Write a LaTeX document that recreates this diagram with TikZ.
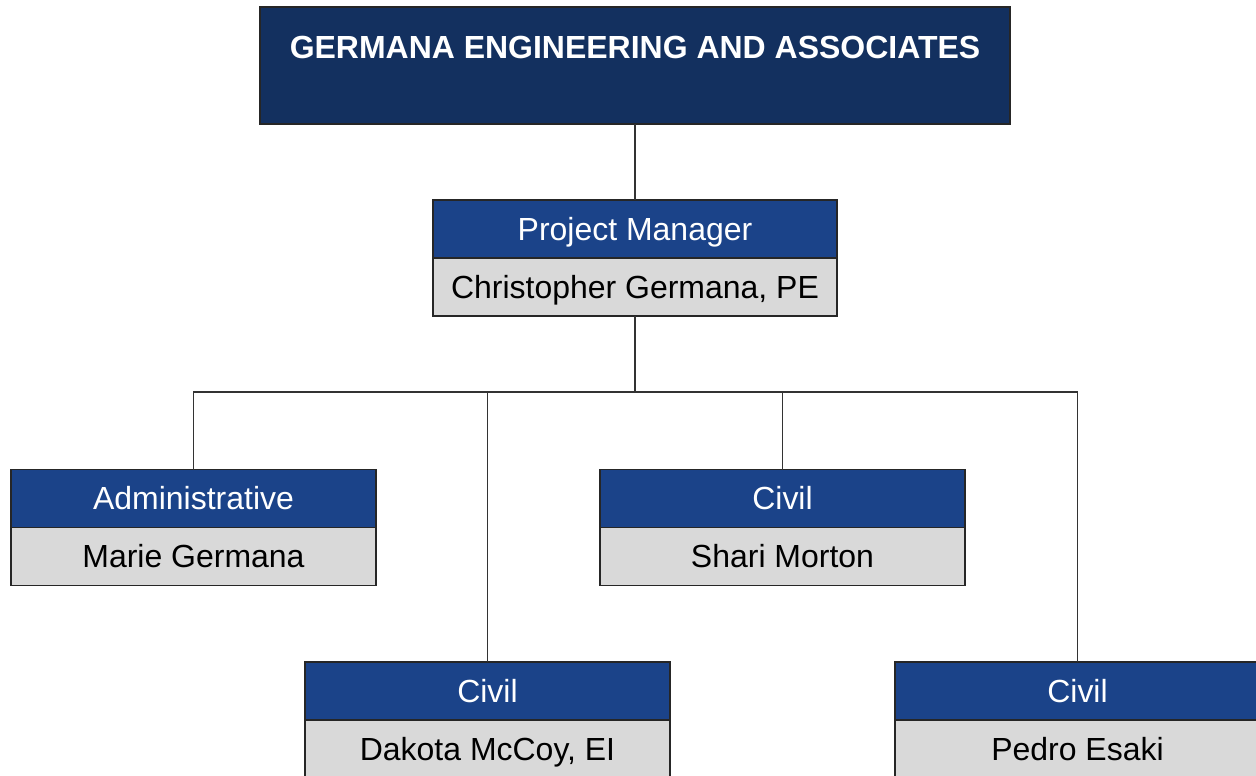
\documentclass[tikz,border=0pt]{standalone}
\usepackage{fontspec}
\setmainfont{Liberation Sans}
\usetikzlibrary{positioning}

\definecolor{firmblue}{HTML}{13305F}
\definecolor{headblue}{HTML}{1B4389}
\definecolor{namegrey}{HTML}{D9D9D9}

\tikzset{
  firmbox/.style={draw=black!85, line width=0.9pt, fill=firmblue,
    minimum width=15cm, minimum height=2.34cm, outer sep=0pt},
  firmtext/.style={text=white, font=\fontsize{18.2}{21}\selectfont\bfseries},
  headbox/.style={draw=black!85, line width=0.9pt, fill=headblue, text=white,
    minimum width=7.3cm, minimum height=1.16cm, outer sep=0pt, inner sep=0pt,
    text height=15pt, text depth=2pt,
    font=\fontsize{18.2}{21}\selectfont},
  namebox/.style={headbox, fill=namegrey, text=black},
  orgline/.style={draw=black!80, line width=0.8pt}
}

\begin{document}
\begin{tikzpicture}[x=0.02cm, y=-0.02cm]
  \useasboundingbox (0,0) rectangle (1256,775);

  \node[firmbox] (firm) at (635,65.5) {};
  \node[firmtext] (firmtitle) at ([yshift=-0.8cm]firm.north) {GERMANA ENGINEERING AND ASSOCIATES};

  \node[headbox, minimum width=8.08cm] (pmhead) at (635,229) {Project Manager};
  \node[namebox, minimum width=8.08cm, below=0pt of pmhead] (pmname) {Christopher Germana, PE};

  \node[headbox] (admhead) at (193.5,498.5) {Administrative};
  \node[namebox, below=0pt of admhead] (admname) {Marie Germana};

  \node[headbox] (shahead) at (782.5,498.5) {Civil};
  \node[namebox, below=0pt of shahead] (shaname) {Shari Morton};

  \node[headbox] (dakhead) at (487.5,691) {Civil};
  \node[namebox, below=0pt of dakhead] (dakname) {Dakota McCoy, EI};

  \node[headbox] (pedhead) at (1077.5,691) {Civil};
  \node[namebox, below=0pt of pedhead] (pedname) {Pedro Esaki};

  \coordinate (bus) at (635,392);

  \draw[orgline] (firm.south) -- (pmhead.north);
  \draw[orgline] (pmname.south) -- (bus);
  \draw[orgline] (admhead.north) |- (bus);
  \draw[orgline] (dakhead.north) |- (bus);
  \draw[orgline] (shahead.north) |- (bus);
  \draw[orgline] (pedhead.north) |- (bus);
\end{tikzpicture}
\end{document}
